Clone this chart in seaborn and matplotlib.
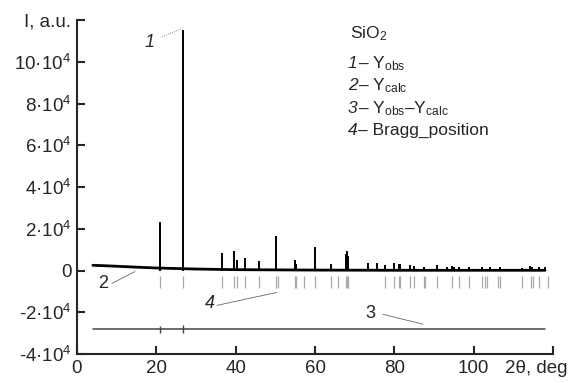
import numpy as np
import pandas as pd
import seaborn as sns
import matplotlib.pyplot as plt

# Peak positions (2theta, deg) and observed heights (counts) of SiO2 pattern
peak_pos = [20.86, 26.64, 36.54, 39.46, 40.29, 42.45, 45.79, 50.14, 54.87, 55.33,
            59.96, 64.03, 67.74, 68.14, 68.31, 73.46, 75.64, 77.67, 79.87, 81.17,
            81.49, 83.84, 84.95, 87.44, 90.83, 93.3, 94.64, 95.1, 96.24, 98.75,
            102.2, 104.2, 106.6, 112.2, 114.1, 114.7, 116.5, 118.0]
peak_height = [23000, 115000, 8600, 9500, 5000, 6000, 4500, 16500, 5000, 3000,
               11200, 3000, 8000, 9500, 7000, 3500, 3500, 2500, 3500, 3000,
               3000, 2500, 2000, 1500, 2500, 1500, 2000, 1500, 1800, 1800,
               1500, 1800, 1500, 1200, 2000, 1800, 1500, 1800]

# background (Ycalc baseline)
bg_x = [4, 8, 15, 20, 30, 40, 60, 80, 100, 118]
bg_y = [2500, 2200, 1600, 1200, 700, 400, 200, 100, 100, 100]

# difference curve Yobs-Ycalc
diff_x = [4, 118]
diff_y = [-28000, -28000]
diff_spike_pos = [20.86, 26.64]
diff_spike_lo = [-30000, -30000]
diff_spike_hi = [-26500, -26000]

# Bragg positions
bragg = [20.86, 26.64, 36.54, 39.46, 40.29, 42.45, 45.79, 50.14, 50.62, 54.87,
         55.33, 57.23, 59.96, 64.03, 65.79, 67.74, 68.14, 68.31, 77.67, 79.87,
         81.17, 81.49, 83.84, 84.95, 87.44, 87.7, 90.83, 94.64, 96.24, 98.75,
         102.2, 102.8, 103.4, 106.1, 106.6, 112.2, 114.4, 115.0, 116.5, 118.7]

yticks = [-40000, -20000, 0, 20000, 40000, 60000, 80000, 100000, 120000]
ytick_labels = ['-4·10$^4$', '-2·10$^4$', '0', '2·10$^4$', '4·10$^4$',
                '6·10$^4$', '8·10$^4$', '10·10$^4$', 'I, a.u.']
xticks = [0, 20, 40, 60, 80, 100, 120]
xtick_labels = ['0', '20', '40', '60', '80', '100', '']

legend_nums = ['1', '2', '3', '4']
legend_texts = ['– Y$_{\\rm obs}$', '– Y$_{\\rm calc}$',
                '– Y$_{\\rm obs}$–Y$_{\\rm calc}$', '– Bragg_position']

sns.set_style('ticks')
plt.rcParams['font.family'] = ['Liberation Sans', 'DejaVu Sans']
plt.rcParams['mathtext.fontset'] = 'custom'
plt.rcParams['mathtext.rm'] = 'Liberation Sans'
plt.rcParams['mathtext.it'] = 'Liberation Sans:italic'

fig = plt.figure(figsize=(5.71, 3.83), dpi=100)
ax = fig.add_axes([77 / 571, 29 / 383, 476 / 571, 334 / 383])

bg = pd.DataFrame({'x': bg_x, 'y': bg_y})
sns.lineplot(data=bg, x='x', y='y', ax=ax, color='black', lw=2)
ax.vlines(peak_pos, 0, peak_height, color='black', lw=1.4)

df = pd.DataFrame({'x': diff_x, 'y': diff_y})
sns.lineplot(data=df, x='x', y='y', ax=ax, color='#444444', lw=1.1)
ax.vlines(diff_spike_pos, diff_spike_lo, diff_spike_hi, color='#444444', lw=1)

ax.vlines(bragg, -8500, -2500, color='#aaaaaa', lw=0.9)

ax.set_xlim(0, 120)
ax.set_ylim(-40000, 120000)
ax.set_xticks(xticks)
ax.set_xticklabels(xtick_labels)
ax.set_yticks(yticks)
ax.set_yticklabels(ytick_labels)
ax.set_xlabel('')
ax.set_ylabel('')
ax.tick_params(direction='in', length=6, width=1.5, labelsize=13.5, pad=4)
sns.despine(ax=ax)
for s in ['left', 'bottom']:
    ax.spines[s].set_linewidth(1.5)

ax.text(115.7, -43000, '2θ, deg', ha='center', va='top', fontsize=13.5)

# curve labels with leader lines
lc = '#666666'
ax.text(18.4, 109000, '1', style='italic', fontsize=13, ha='center', va='center')
ax.plot([21.4, 26.3], [111900, 115800], color=lc, lw=0.6, ls=':')
ax.text(6.6, -6200, '2', fontsize=13, ha='center', va='center')
ax.plot([8.8, 14.6], [-6200, -500], color=lc, lw=0.6)
ax.text(33.5, -15700, '4', style='italic', fontsize=13, ha='center', va='center')
ax.plot([35.3, 50.4], [-16700, -10500], color=lc, lw=0.6)
ax.text(73.9, -20500, '3', fontsize=13, ha='center', va='center')
ax.plot([77.1, 87.2], [-21000, -25700], color=lc, lw=0.6)

# legend block
lx = 348 / 571
fig.text(lx + 2 / 571, 1 - 38 / 383, 'SiO$_2$', fontsize=12.5, va='baseline')
for i, (num, txt) in enumerate(zip(legend_nums, legend_texts)):
    yb = 1 - (68 + 22.4 * i) / 383
    fig.text(lx, yb, num, fontsize=12.5, style='italic', va='baseline')
    fig.text(lx + 10 / 571, yb, txt, fontsize=12.5, va='baseline')

fig.savefig('out.png', dpi=100)
